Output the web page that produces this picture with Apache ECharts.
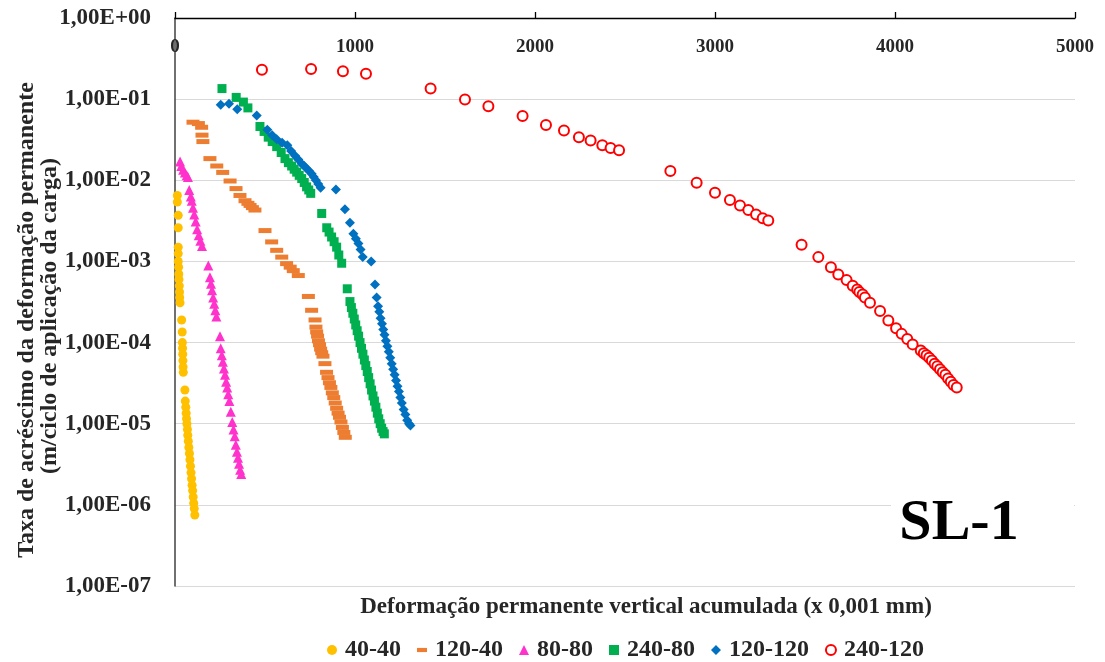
<!DOCTYPE html>
<html>
<head>
<meta charset="utf-8">
<script src="https://cdn.jsdelivr.net/npm/echarts@6/dist/echarts.min.js"></script>
<style>
html,body{margin:0;padding:0;background:#fff;}
#chart{width:1105px;height:662px;}
</style>
</head>
<body>
<div id="chart"></div>
<script>
// ---- data ----
var seriesNames = ['40-40', '120-40', '80-80', '240-80', '120-120', '240-120'];
var xTickLabels = ['0', '1000', '2000', '3000', '4000', '5000'];
var yTickLabels = ['1,00E+00', '1,00E-01', '1,00E-02', '1,00E-03', '1,00E-04', '1,00E-05', '1,00E-06', '1,00E-07'];

var s40_40 = [[13,6.5e-3],[13,5.4e-3],[18,3.7e-3],[18,2.6e-3],[18,1.5e-3],[18,1.25e-3],[18,1.0e-3],[20,8.5e-4],[21,7e-4],[22,6e-4],[24,5e-4],[25,4.2e-4],[26,3.6e-4],[28,3.1e-4],[37,1.9e-4],[40,1.35e-4],[41,1.0e-4],[42,8.5e-5],[43,7.2e-5],[44,6.0e-5],[45,5.0e-5],[46,4.3e-5],[55,2.6e-5],[57,1.9e-5],[60,1.6e-5],[62,1.35e-5],[64,1.15e-5],[66,1.0e-5],[69,8.5e-6],[71,7.2e-6],[74,6.1e-6],[77,5.1e-6],[80,4.3e-6],[83,3.6e-6],[86,3.0e-6],[89,2.5e-6],[92,2.1e-6],[95,1.75e-6],[98,1.5e-6],[101,1.25e-6],[104,1.05e-6],[107,0.9e-6],[110,0.75e-6]];

var s120_40 = [[100,5.2e-2],[130,5.0e-2],[148,4.5e-2],[150,3.6e-2],[155,3.0e-2],[194,1.85e-2],[232,1.5e-2],[265,1.25e-2],[306,9.8e-3],[339,7.9e-3],[361,6.5e-3],[389,5.6e-3],[405,5.2e-3],[417,4.9e-3],[430,4.6e-3],[444,4.3e-3],[500,2.4e-3],[537,1.74e-3],[565,1.37e-3],[593,1.13e-3],[620,9.4e-4],[640,8.5e-4],[657,7.7e-4],[685,6.7e-4],[741,3.7e-4],[759,2.5e-4],[778,1.9e-4],[783,1.55e-4],[787,1.35e-4],[792,1.2e-4],[797,1.05e-4],[803,9.4e-5],[809,8.3e-5],[815,7.5e-5],[822,6.8e-5],[833,5.5e-5],[842,4.3e-5],[850,3.7e-5],[858,3.2e-5],[866,2.8e-5],[874,2.4e-5],[882,2.1e-5],[890,1.8e-5],[898,1.55e-5],[906,1.35e-5],[914,1.2e-5],[922,1.05e-5],[930,9e-6],[938,7.8e-6],[946,6.8e-6]];

var s80_80 = [[28,1.7e-2],[35,1.5e-2],[45,1.35e-2],[55,1.25e-2],[65,1.15e-2],[72,1.1e-2],[79,7.6e-3],[88,6.3e-3],[93,5.6e-3],[100,4.6e-3],[107,3.8e-3],[115,3.1e-3],[123,2.5e-3],[132,2.1e-3],[141,1.8e-3],[150,1.55e-3],[185,8.9e-4],[194,6.4e-4],[200,5.3e-4],[206,4.4e-4],[212,3.6e-4],[218,3.0e-4],[224,2.5e-4],[230,2.1e-4],[250,1.2e-4],[254,8.5e-5],[260,7e-5],[266,5.8e-5],[272,4.8e-5],[278,4e-5],[284,3.3e-5],[290,2.8e-5],[296,2.3e-5],[302,1.9e-5],[310,1.4e-5],[318,1.05e-5],[325,8.5e-6],[332,7e-6],[338,5.5e-6],[344,4.5e-6],[350,3.8e-6],[356,3.2e-6],[362,2.7e-6],[368,2.4e-6]];

var s240_80 = [[261,0.135],[340,0.105],[380,0.092],[405,0.078],[472,0.046],[495,0.040],[518,0.034],[540,0.030],[565,0.026],[590,0.022],[611,0.0185],[630,0.0165],[648,0.015],[662,0.0137],[676,0.0126],[690,0.0115],[704,0.0105],[718,0.0094],[731,0.0083],[743,0.0076],[754,0.0069],[815,0.0039],[843,0.0026],[856,0.0023],[870,0.0020],[884,0.00175],[898,0.0015],[910,0.0012],[926,0.00095],[957,4.6e-4],[972,3.2e-4],[980,2.7e-4],[988,2.3e-4],[996,1.95e-4],[1004,1.65e-4],[1012,1.4e-4],[1020,1.2e-4],[1028,1.0e-4],[1036,8.5e-5],[1044,7.2e-5],[1052,6.1e-5],[1060,5.2e-5],[1068,4.4e-5],[1076,3.7e-5],[1084,3.1e-5],[1092,2.6e-5],[1100,2.2e-5],[1108,1.9e-5],[1116,1.6e-5],[1124,1.35e-5],[1132,1.15e-5],[1140,1.0e-5],[1148,8.8e-6],[1156,8.0e-6],[1163,7.5e-6]];

var s120_120 = [[254,0.085],[300,0.088],[346,0.075],[454,0.063],[513,0.042],[540,0.036],[565,0.032],[595,0.029],[624,0.027],[645,0.023],[667,0.020],[685,0.018],[704,0.016],[718,0.015],[731,0.014],[745,0.013],[759,0.012],[771,0.011],[783,0.010],[796,0.009],[809,0.0081],[894,0.0077],[944,0.0044],[972,0.0030],[991,0.0022],[1005,0.0019],[1019,0.00166],[1031,0.0014],[1043,0.00113],[1090,0.00100],[1111,0.00052],[1120,0.00036],[1128,0.00028],[1135,0.00024],[1142,0.0002],[1150,0.00017],[1157,0.000145],[1164,0.000125],[1172,0.000105],[1180,0.00009],[1188,0.000077],[1196,0.000065],[1204,0.000055],[1212,0.000047],[1220,0.00004],[1228,0.000034],[1236,0.000029],[1244,0.000025],[1252,0.000021],[1260,0.000018],[1270,0.000015],[1280,0.000013],[1290,0.000011],[1300,0.00001],[1308,0.0000095]];

var s240_120 = [[483,0.23],[756,0.235],[933,0.22],[1061,0.205],[1420,0.135],[1611,0.099],[1741,0.082],[1931,0.062],[2061,0.048],[2161,0.041],[2244,0.034],[2309,0.031],[2374,0.027],[2420,0.025],[2467,0.0235],[2752,0.013],[2898,0.0093],[3000,0.0070],[3083,0.0057],[3139,0.0049],[3185,0.0043],[3228,0.0038],[3265,0.0034],[3296,0.0032],[3481,0.0016],[3574,0.00113],[3644,0.00085],[3685,0.00069],[3731,0.00059],[3765,0.0005],[3790,0.00045],[3802,0.00042],[3820,0.00039],[3833,0.00036],[3861,0.00031],[3917,0.000245],[3963,0.000187],[4006,0.00015],[4037,0.000128],[4068,0.000111],[4098,0.000095],[4143,0.00008],[4160,0.000074],[4175,0.00007],[4190,0.000065],[4205,0.00006],[4220,0.000055],[4235,0.000051],[4250,0.000047],[4265,0.000043],[4280,0.00004],[4295,0.000036],[4310,0.000033],[4325,0.00003],[4343,0.000028]];

// ---- chart ----
var FONT = "'Liberation Serif','Times New Roman',serif";
var chart = echarts.init(document.getElementById('chart'), null, {renderer: 'canvas'});

function yLabel(v) {
  var e = Math.round(-Math.log(v) / Math.LN10);
  return yTickLabels[e] !== undefined ? yTickLabels[e] : '';
}
function xLabel(v) {
  var i = Math.round(v / 1000);
  return xTickLabels[i] !== undefined ? xTickLabels[i] : '';
}

var option = {
  backgroundColor: '#ffffff',
  animation: false,
  grid: {left: 175, right: 30, top: 18, bottom: 76, containLabel: false},
  xAxis: {
    type: 'value', position: 'top', min: 0, max: 5000, interval: 1000,
    axisLine: {show: true, lineStyle: {color: '#000', width: 1.3}},
    axisTick: {show: true, inside: false, length: 6, lineStyle: {color: '#000', width: 1.3}},
    axisLabel: {inside: true, margin: 20, formatter: xLabel, fontFamily: FONT, fontWeight: 'bold', fontSize: 19, color: '#262626'},
    splitLine: {show: false}
  },
  yAxis: {
    type: 'log', logBase: 10, min: 1e-7, max: 1, splitNumber: 7,
    axisLine: {show: true, lineStyle: {color: '#404040', width: 1.5}},
    axisTick: {show: false},
    axisLabel: {margin: 24, formatter: yLabel, fontFamily: FONT, fontWeight: 'bold', fontSize: 23, color: '#262626'},
    splitLine: {show: true, lineStyle: {color: '#d9d9d9', width: 1}},
    minorTick: {show: false}
  },
  legend: {
    left: 322, top: 633, orient: 'horizontal',
    itemWidth: 10, itemHeight: 10, itemGap: 16,
    textStyle: {fontFamily: FONT, fontWeight: 'bold', fontSize: 24, color: '#262626', padding: [0, 0, 0, 3]},
    data: [
      {name: seriesNames[0], icon: 'circle'},
      {name: seriesNames[1], icon: 'path://M0,0h12v5h-12z'},
      {name: seriesNames[2], icon: 'triangle'},
      {name: seriesNames[3], icon: 'rect'},
      {name: seriesNames[4], icon: 'diamond'},
      {name: seriesNames[5], icon: 'emptyCircle'}
    ]
  },
  series: [
    {name: seriesNames[0], type: 'scatter', data: s40_40, symbol: 'circle', symbolSize: 9, itemStyle: {color: '#FFC000', opacity: 1}},
    {name: seriesNames[1], type: 'scatter', data: s120_40, symbol: 'rect', symbolSize: [13, 5], itemStyle: {color: '#ED7D31', opacity: 1}},
    {name: seriesNames[2], type: 'scatter', data: s80_80, symbol: 'triangle', symbolSize: 10, itemStyle: {color: '#FF33CC', opacity: 1}},
    {name: seriesNames[3], type: 'scatter', data: s240_80, symbol: 'rect', symbolSize: 9, itemStyle: {color: '#00B050', opacity: 1}},
    {name: seriesNames[4], type: 'scatter', data: s120_120, symbol: 'diamond', symbolSize: 10, itemStyle: {color: '#0070C0', opacity: 1}},
    {name: seriesNames[5], type: 'scatter', data: s240_120, symbol: 'emptyCircle', symbolSize: 10, itemStyle: {color: '#FF0000', borderColor: '#FF2a2a', borderWidth: 1.6, opacity: 1}}
  ],
  graphic: [
    {type: 'rect', z: 50, shape: {x: 891, y: 486, width: 183, height: 80}, style: {fill: '#ffffff'}},
    {type: 'text', z: 51, x: 959, y: 524, style: {text: 'SL-1', font: 'bold 58px ' + FONT, fill: '#000', textAlign: 'center', textVerticalAlign: 'middle'}},
    {type: 'text', z: 51, x: 646, y: 607, style: {text: 'Deformação permanente vertical acumulada (x 0,001 mm)', font: 'bold 23px ' + FONT, fill: '#262626', textAlign: 'center', textVerticalAlign: 'middle'}},
    {type: 'text', z: 51, x: 27, y: 320, rotation: Math.PI / 2, style: {text: 'Taxa de acréscimo da deformação permanente', font: 'bold 24px ' + FONT, fill: '#262626', textAlign: 'center', textVerticalAlign: 'middle'}},
    {type: 'text', z: 51, x: 50, y: 316, rotation: Math.PI / 2, style: {text: '(m/ciclo de aplicação da carga)', font: 'bold 24px ' + FONT, fill: '#262626', textAlign: 'center', textVerticalAlign: 'middle'}}
  ]
};
chart.setOption(option);
</script>
</body>
</html>
